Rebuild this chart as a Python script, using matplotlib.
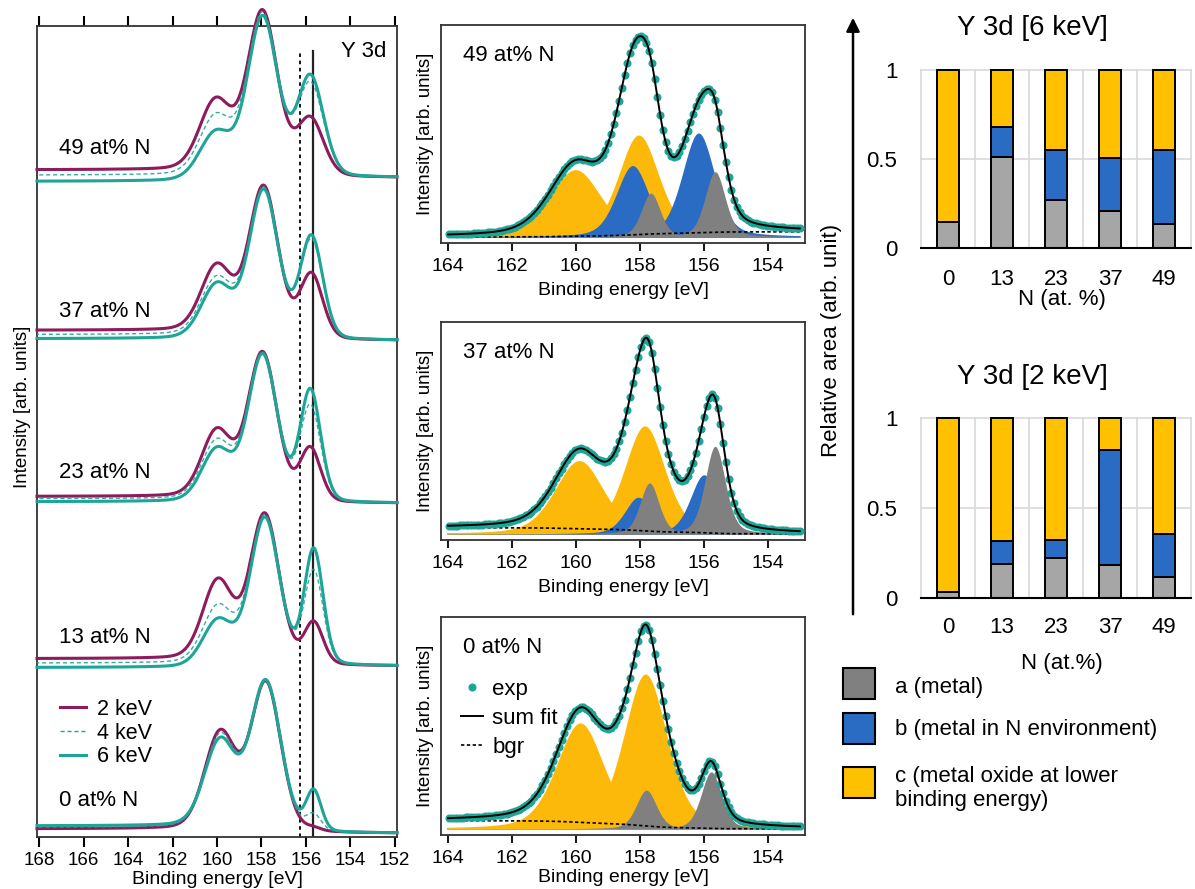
import numpy as np
import matplotlib.pyplot as plt
from matplotlib.patches import Rectangle, FancyArrowPatch
from matplotlib.lines import Line2D

plt.rcParams['font.family'] = ['Liberation Sans', 'DejaVu Sans']

W, H = 1195, 889
fig = plt.figure(figsize=(W / 100, H / 100), dpi=100)

PURPLE = '#8e1b5b'
TEAL = '#1ea597'
ORANGE = '#fcb90a'
BLUE = '#2a6bc3'
GREY = '#808080'
BAR_GREY = '#a6a6a6'
BAR_ORANGE = '#ffc000'
BAR_BLUE = '#2a6bc3'

# ---- left panel: Y 3d depth series (2 / 4 / 6 keV) ----
groups = ['0 at% N', '13 at% N', '23 at% N', '37 at% N', '49 at% N']
offsets = [0.0, 1.13, 2.23, 3.33, 4.43]
main_h = [1.0, 1.0, 0.99, 1.0, 1.09]
c1 = [155.65, 155.65, 155.8, 155.75, 155.8]
c2 = [157.8, 157.85, 157.95, 157.9, 157.95]
c3 = [159.85, 159.95, 160.0, 160.0, 160.05]
w1 = [0.8, 1.0, 1.1, 1.2, 1.4]
w2 = [1.6, 1.55, 1.55, 1.55, 1.6]
w3 = [1.65, 1.6, 1.6, 1.65, 1.7]
h1_2kev = [0.02, 0.28, 0.36, 0.43, 0.35]
h1_4kev = [0.11, 0.63, 0.65, 0.66, 0.57]
h1_6kev = [0.27, 0.78, 0.76, 0.69, 0.62]
h3_2kev = [0.65, 0.53, 0.45, 0.44, 0.43]
h3_4kev = [0.62, 0.38, 0.39, 0.38, 0.36]
h3_6kev = [0.58, 0.31, 0.35, 0.36, 0.29]
step_2kev = [0.03, 0.05, 0.046, 0.069, 0.053]
step_4kev = [0.04, 0.02, 0.03, 0.04, 0.017]
step_6kev = [0.05, -0.01, 0.01, 0.012, -0.025]

# ---- middle panels: peak fits (3d5/2, 3d3/2 of each component) ----
fit_labels = ['49 at% N', '37 at% N', '0 at% N']
a_pos = [[155.65, 157.66], [155.65, 157.7], [155.77, 157.8]]
a_h = [[0.32, 0.215], [0.43, 0.25], [0.28, 0.19]]
a_w = [[0.75, 0.7], [0.75, 0.7], [0.75, 0.75]]
b_pos = [[156.17, 158.23], [156.0, 158.05], [156.1, 158.15]]
b_h = [[0.51, 0.35], [0.29, 0.18], [0.0, 0.0]]
b_w = [[1.2, 1.2], [1.0, 1.0], [1.0, 1.0]]
c_pos = [[158.04, 160.02], [157.85, 159.9], [157.83, 159.87]]
c_h = [[0.50, 0.33], [0.53, 0.36], [0.76, 0.52]]
c_w = [[1.5, 1.9], [1.5, 1.8], [1.6, 1.75]]
bgr_high = [0.0, 0.03, 0.04]   # at 164 eV
bgr_low = [0.025, 0.0, 0.0]    # at 153 eV

# ---- right panels: relative areas ----
n_cat = ['0', '13', '23', '37', '49']
a_6kev = [0.144, 0.514, 0.271, 0.209, 0.136]
b_6kev = [0.0, 0.168, 0.280, 0.298, 0.412]
c_6kev = [0.856, 0.318, 0.449, 0.493, 0.452]
a_2kev = [0.033, 0.191, 0.223, 0.186, 0.117]
b_2kev = [0.0, 0.125, 0.102, 0.634, 0.238]
c_2kev = [0.967, 0.684, 0.675, 0.180, 0.645]


def box(x0, y0, x1, y1):
    return fig.add_axes([x0 / W, 1 - y1 / H, (x1 - x0) / W, (y1 - y0) / H])


def peak(E, c, h, w, eta=0.25):
    x = (E - c) / w
    return h * ((1 - eta) * np.exp(-4 * np.log(2) * x ** 2) + eta / (1 + 4 * x ** 2))


def shirley(E, y, high, low):
    cum = np.cumsum(y)
    cum = cum / cum[-1]
    return low + (high - low) * cum


# left panel
ax = box(37, 26, 397, 837)
E = np.linspace(151.9, 168.1, 1200)
styles = [(h1_2kev, h3_2kev, step_2kev, dict(color=PURPLE, lw=2.2, zorder=3)),
          (h1_4kev, h3_4kev, step_4kev, dict(color=TEAL, lw=1.0, ls=(0, (3, 2)), alpha=0.9, zorder=4)),
          (h1_6kev, h3_6kev, step_6kev, dict(color=TEAL, lw=2.2, zorder=5))]
for i in range(len(groups)):
    for h1, h3, st, kw in styles:
        y = (peak(E, c1[i], h1[i], w1[i], 0.15) + peak(E, c2[i], 1.0, w2[i], 0.15)
             + peak(E, c3[i], h3[i], w3[i], 0.15))
        y = y * main_h[i]
        y = y + shirley(E, y, st[i], 0.0)
        ax.plot(E, offsets[i] + y, clip_on=False, **kw)
ax.set_xlim(168.1, 151.9)
ax.set_ylim(-0.025, 5.455)
ax.set_yticks([])
ax.set_xticks(np.arange(152, 169, 2))
ax.tick_params(axis='x', which='both', top=True, direction='out', length=7, width=1.5,
               labelsize=13.5, pad=4)
for s in ax.spines.values():
    s.set_linewidth(1.3)
    s.set_color('#333333')
ax.axvline(156.25, ymax=0.969, color='black', lw=1.3, ls=(0, (2, 2)))
ax.axvline(155.68, ymax=0.969, color='#222222', lw=1.6)
ax.text(0.97, 0.969, 'Y 3d', transform=ax.transAxes, ha='right', va='center', fontsize=16)
label_y = [0.219, 1.321, 2.441, 3.524, 4.627]
for i, g in enumerate(groups):
    ax.text(167.1, label_y[i], g, ha='left', va='center', fontsize=16)
ax.set_xlabel('Binding energy [eV]', fontsize=14, labelpad=1)
ax.set_ylabel('Intensity [arb. units]', fontsize=13.5)
ax.yaxis.set_label_coords(-0.018, 0.53)
handles = [Line2D([], [], color=PURPLE, lw=2.2), Line2D([], [], color=TEAL, lw=1.0, ls=(0, (3, 2))),
           Line2D([], [], color=TEAL, lw=2.2)]
ax.legend(handles, ['2 keV', '4 keV', '6 keV'], loc='upper left', frameon=False,
          bbox_to_anchor=(60 / W, 1 - 699 / H), bbox_transform=fig.transFigure,
          fontsize=15.5, handlelength=1.2, handletextpad=0.5, labelspacing=0.12,
          borderpad=0, borderaxespad=0)

# middle panels
mid_boxes = [(441, 25, 805, 243), (441, 322, 805, 540), (441, 617, 805, 835)]
Ef = np.linspace(153.0, 164.0, 900)
for k, (x0, y0, x1, y1) in enumerate(mid_boxes):
    ax = box(x0, y0, x1, y1)
    comps = []
    for pos, hh, ww, col in [(c_pos[k], c_h[k], c_w[k], ORANGE),
                             (b_pos[k], b_h[k], b_w[k], BLUE),
                             (a_pos[k], a_h[k], a_w[k], GREY)]:
        for p, h, w in zip(pos, hh, ww):
            if h <= 0:
                continue
            y = peak(Ef, p, h, w, 0.35)
            comps.append(y)
            ax.fill_between(Ef, 0, y, color=col, lw=0, zorder=2)
    total = np.sum(comps, axis=0)
    bg = shirley(Ef, total, bgr_high[k], bgr_low[k])
    fit = total + bg
    ax.plot(Ef, np.zeros_like(Ef), color='#b0b0b0', lw=1.5, zorder=1)
    ax.plot(Ef, bg, color='black', lw=1.2, ls=(0, (2, 1.5)), zorder=3)
    ax.plot(Ef[::7], fit[::7], 'o', ms=4.8, color=TEAL, mec=TEAL, zorder=4)
    ax.plot(Ef, fit, color='black', lw=1.4, zorder=5)
    ax.set_xlim(164.22, 152.84)
    ax.set_ylim(-0.03, 1.04)
    ax.set_yticks([])
    ax.set_xticks(np.arange(154, 165, 2))
    ax.tick_params(axis='x', direction='out', length=6, width=1.3, labelsize=14, pad=5)
    for s in ax.spines.values():
        s.set_linewidth(1.3)
        s.set_color('#333333')
    ax.set_xlabel('Binding energy [eV]', fontsize=14, labelpad=5 if k < 2 else 1)
    ax.set_ylabel('Intensity [arb. units]', fontsize=13.5, labelpad=5)
    ax.text(0.06, 0.86, fit_labels[k], transform=ax.transAxes, fontsize=16, va='center')
    if k == 2:
        lh = [Line2D([], [], marker='o', ls='none', ms=4.8, color=TEAL),
              Line2D([], [], color='black', lw=1.4),
              Line2D([], [], color='black', lw=1.2, ls=(0, (2, 1.5)))]
        ax.legend(lh, ['exp', 'sum fit', 'bgr'], loc='upper left', frameon=False,
                  bbox_to_anchor=(461 / W, 1 - 679 / H), bbox_transform=fig.transFigure,
                  fontsize=16, handlelength=1.0, handletextpad=0.4, labelspacing=0.35,
                  borderpad=0, borderaxespad=0)

# right panels: stacked bars
x = np.arange(len(n_cat))
for (y0, y1, av, bv, cv, title, ty, xl, xly, tky) in [
        (70, 248, a_6kev, b_6kev, c_6kev, 'Y 3d [6 keV]', 28, 'N (at. %)', 300, 280),
        (418, 598, a_2kev, b_2kev, c_2kev, 'Y 3d [2 keV]', 377, 'N (at.%)', 663, 628)]:
    ax = box(921, y0, 1191, y1)
    kw = dict(width=0.41, edgecolor='black', linewidth=1.4, zorder=3, clip_on=False)
    ax.bar(x, av, color=BAR_GREY, **kw)
    ax.bar(x, bv, bottom=av, color=BAR_BLUE, **kw)
    ax.bar(x, cv, bottom=np.add(av, bv), color=BAR_ORANGE, **kw)
    for gx in np.arange(-0.5, 5, 1.0):
        ax.plot([gx, gx], [0, 1], color='#d9d9d9', lw=1.2, zorder=1, clip_on=False)
    for gy in [0.5, 1.0]:
        ax.plot([-0.5, 4.5], [gy, gy], color='#d9d9d9', lw=1.2, zorder=1, clip_on=False)
    ax.set_xlim(-0.5, 4.5)
    ax.set_ylim(0, 1)
    ax.set_yticks([0, 0.5, 1])
    ax.set_yticklabels(['0', '0.5', '1'])
    ax.set_xticks(x)
    ax.set_xticklabels(n_cat)
    ax.tick_params(length=0, labelsize=16)
    ax.tick_params(axis='y', pad=17)
    ax.tick_params(axis='x', pad=(tky - y1 - 11) * 0.72)
    for s in ['left', 'right', 'top']:
        ax.spines[s].set_visible(False)
    ax.spines['bottom'].set_linewidth(1.5)
    ax.spines['bottom'].set_zorder(4)
    fig.text(1032 / W, 1 - ty / H, title, ha='center', va='center', fontsize=20)
    fig.text(1062 / W, 1 - xly / H, xl, ha='center', va='center', fontsize=16)

fig.add_artist(FancyArrowPatch((853 / W, 1 - 617 / H), (853 / W, 1 - 15 / H),
                               transform=fig.transFigure, arrowstyle='-|>',
                               mutation_scale=20, lw=1.8, color='black'))
fig.text(832 / W, 1 - 340 / H, 'Relative area (arb. unit)', rotation=90,
         ha='center', va='center', fontsize=16)

legend_items = [(668, GREY, 'a (metal)', 687),
                (713, BAR_BLUE, 'b (metal in N environment)', 730),
                (767, BAR_ORANGE, 'c (metal oxide at lower\nbinding energy)', 766)]
for ytop, col, txt, tyy in legend_items:
    fig.add_artist(Rectangle((843 / W, 1 - (ytop + 31) / H), 32 / W, 31 / H,
                             transform=fig.transFigure, facecolor=col,
                             edgecolor='black', lw=1.5))
    if '\n' in txt:
        fig.text(895 / W, 1 - tyy / H, txt, ha='left', va='top', fontsize=16, linespacing=1.2)
    else:
        fig.text(895 / W, 1 - tyy / H, txt, ha='left', va='center', fontsize=16)

fig.savefig('out.png', dpi=100)
